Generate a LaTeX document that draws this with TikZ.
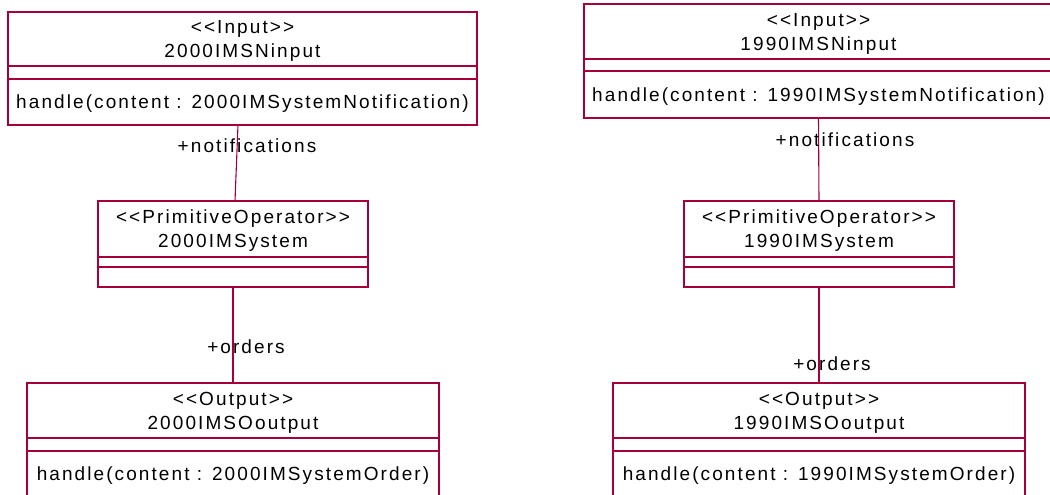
\documentclass[tikz,border=0pt]{standalone}
\usepackage{fontspec}
\newfontfamily\umlfont{Liberation Sans}[LetterSpace=11]
\usetikzlibrary{positioning,calc}
\definecolor{umlred}{RGB}{165,0,55}

\begin{document}
\begin{tikzpicture}[x=1pt,y=-1pt,
  font=\umlfont\fontsize{19}{24}\selectfont,
  cls/.style={draw=umlred,line width=1.1pt,rectangle,inner sep=0pt,outer sep=0pt,align=center,text depth=0pt},
  assoc/.style={draw=umlred,line width=1.1pt},
]
  \useasboundingbox (0,0) rectangle (1050,495);
  \clip (0,0) rectangle (1050,495);

  % 2000 side
  \node[cls,anchor=north,minimum width=469,minimum height=54] (in1) at (242.5,12) {<{}<Input>{}>\\2000IMSNinput};
  \node[cls,below=0pt of in1,minimum width=469,minimum height=13] (in1a) {};
  \node[cls,below=0pt of in1a,minimum width=469,minimum height=46] (in1o) {handle(content : 2000IMSystemNotification)};

  \node[cls,anchor=north,minimum width=270,minimum height=56] (sys1) at (233,201) {<{}<PrimitiveOperator>{}>\\2000IMSystem};
  \node[cls,below=0pt of sys1,minimum width=270,minimum height=10] (sys1a) {};
  \node[cls,below=0pt of sys1a,minimum width=270,minimum height=20] (sys1o) {};

  \node[cls,anchor=north,minimum width=412,minimum height=55] (out1) at (233,383) {<{}<Output>{}>\\2000IMSOoutput};
  \node[cls,below=0pt of out1,minimum width=412,minimum height=13] (out1a) {};
  \node[cls,below=0pt of out1a,minimum width=412,minimum height=46] (out1o) {handle(content : 2000IMSystemOrder)};

  % 1990 side
  \node[cls,anchor=north,minimum width=469,minimum height=55] (in2) at (818.5,4) {<{}<Input>{}>\\1990IMSNinput};
  \node[cls,below=0pt of in2,minimum width=469,minimum height=12] (in2a) {};
  \node[cls,below=0pt of in2a,minimum width=469,minimum height=47] (in2o) {handle(content : 1990IMSystemNotification)};

  \node[cls,anchor=north,minimum width=270,minimum height=56] (sys2) at (819,201) {<{}<PrimitiveOperator>{}>\\1990IMSystem};
  \node[cls,below=0pt of sys2,minimum width=270,minimum height=10] (sys2a) {};
  \node[cls,below=0pt of sys2a,minimum width=270,minimum height=20] (sys2o) {};

  \node[cls,anchor=north,minimum width=412,minimum height=55] (out2) at (819,383) {<{}<Output>{}>\\1990IMSOoutput};
  \node[cls,below=0pt of out2,minimum width=412,minimum height=13] (out2a) {};
  \node[cls,below=0pt of out2a,minimum width=412,minimum height=46] (out2o) {handle(content : 1990IMSystemOrder)};

  % associations
  \draw[assoc] ([xshift=-4.5pt]in1o.south) -- ([xshift=2pt]sys1.north);
  \draw[assoc] (sys1o.south) -- (out1.north);
  \draw[assoc] (in2o.south) -- (sys2.north);
  \draw[assoc] (sys2o.south) -- (out2.north);

  \node (nt1) at (247,146) {+notifications};
  \node (or1) at (246,347) {+orders};
  \node (nt2) at (845,140) {+notifications};
  \node (or2) at (832,364) {+orders};
\end{tikzpicture}
\end{document}
